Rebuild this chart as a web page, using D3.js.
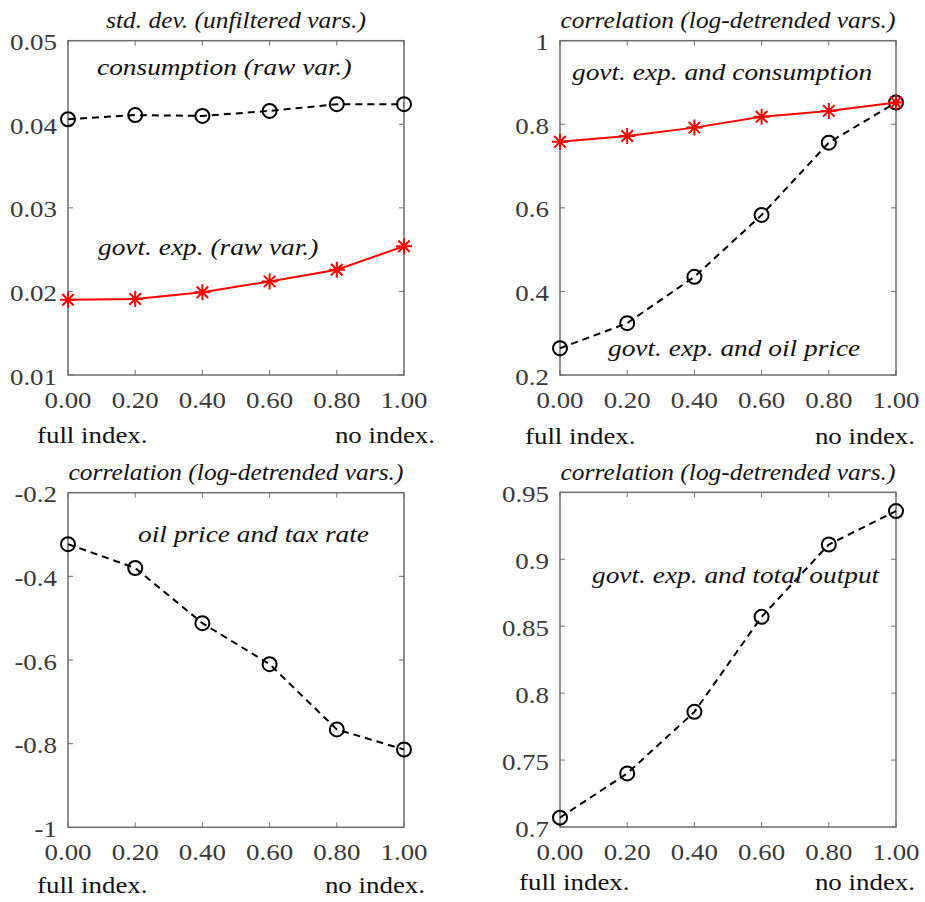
<!DOCTYPE html>
<html>
<head>
<meta charset="utf-8">
<script src="https://cdn.jsdelivr.net/npm/d3@7"></script>
<style>
  html, body { margin: 0; padding: 0; background: #fff; }
  svg { display: block; }
</style>
</head>
<body>
<svg id="chart" width="925" height="902" font-family="'Liberation Serif', Tinos, 'Times New Roman', Times, 'DejaVu Serif', serif"></svg>
<script>
// ---------------- data ----------------
const indexation = [0, 0.2, 0.4, 0.6, 0.8, 1.0];
const xTickLabels = ["0.00", "0.20", "0.40", "0.60", "0.80", "1.00"];

// panel 1: std. dev. (unfiltered vars.)
const sdConsumption = [0.0406, 0.0411, 0.0410, 0.0416, 0.0424, 0.0424];
const sdGovtExp     = [0.0190, 0.0191, 0.0199, 0.0212, 0.0226, 0.0254];
const p1Ticks = [0.01, 0.02, 0.03, 0.04, 0.05];
const p1TickLabels = ["0.01", "0.02", "0.03", "0.04", "0.05"];

// panel 2: correlations
const corrGovtCons = [0.758, 0.772, 0.792, 0.818, 0.832, 0.852];
const corrGovtOil  = [0.264, 0.324, 0.435, 0.583, 0.756, 0.852];
const p2Ticks = [0.2, 0.4, 0.6, 0.8, 1.0];
const p2TickLabels = ["0.2", "0.4", "0.6", "0.8", "1"];

// panel 3: oil price and tax rate
const corrOilTax = [-0.323, -0.380, -0.512, -0.610, -0.766, -0.814];
const p3Ticks = [-1, -0.8, -0.6, -0.4, -0.2];
const p3TickLabels = ["-1", "-0.8", "-0.6", "-0.4", "-0.2"];

// panel 4: govt. exp. and total output
const corrGovtOutput = [0.707, 0.740, 0.786, 0.857, 0.911, 0.936];
const p4Ticks = [0.7, 0.75, 0.8, 0.85, 0.9, 0.95];
const p4TickLabels = ["0.7", "0.75", "0.8", "0.85", "0.9", "0.95"];

// ---------------- drawing ----------------
const svg = d3.select("#chart");
const AXIS_COLOR = "#6e6e6e";
const TICK_TEXT = "#383838";

function addText(parent, x, y, str, o) {
  const g = parent.append("g").attr("transform", `translate(${x},${y}) scale(${o.sx || 1},1)`);
  g.append("text").attr("x", 0).attr("y", 0)
    .attr("text-anchor", o.anchor || "start")
    .attr("font-size", o.size)
    .attr("font-style", o.italic ? "italic" : "normal")
    .attr("fill", o.fill || "#111")
    .text(str);
}

function starPath(r) {
  const d = r * 0.72;
  return `M${-r},0L${r},0M0,${-r}L0,${r}M${-d},${-d}L${d},${d}M${-d},${d}L${d},${-d}`;
}

function drawPanel(cfg) {
  const { left, top, width, height, yDomain, yTicks, yTickLabels, series, title, notes, fullX, fullY, noX, noY } = cfg;
  const g = svg.append("g");
  const x = d3.scaleLinear().domain([0, 1]).range([left, left + width]);
  const y = d3.scaleLinear().domain(yDomain).range([top + height, top]);

  const tickLen = 5;
  const tg = g.append("g").attr("stroke", AXIS_COLOR).attr("stroke-width", 1);
  indexation.forEach(v => {
    tg.append("line").attr("x1", x(v)).attr("x2", x(v)).attr("y1", top + height).attr("y2", top + height - tickLen);
    tg.append("line").attr("x1", x(v)).attr("x2", x(v)).attr("y1", top).attr("y2", top + tickLen);
  });
  yTicks.forEach(v => {
    tg.append("line").attr("x1", left).attr("x2", left + tickLen).attr("y1", y(v)).attr("y2", y(v));
    tg.append("line").attr("x1", left + width).attr("x2", left + width - tickLen).attr("y1", y(v)).attr("y2", y(v));
  });

  g.append("rect").attr("x", left).attr("y", top).attr("width", width).attr("height", height)
    .attr("fill", "none").attr("stroke", AXIS_COLOR).attr("stroke-width", 1.5);

  indexation.forEach((v, i) => {
    addText(g, x(v), top + height + 33, xTickLabels[i], { size: 23, anchor: "middle", sx: 1.17, fill: TICK_TEXT });
  });
  yTicks.forEach((v, i) => {
    addText(g, left - 11, y(v) + 9.5, yTickLabels[i], { size: 23, anchor: "end", sx: 1.17, fill: TICK_TEXT });
  });

  addText(g, fullX, fullY, "full index.", { size: 23, sx: 1.17 });
  addText(g, noX, noY, "no index.", { size: 23, anchor: "end", sx: 1.17 });

  addText(g, left + width / 2, top - 12.5, title, { size: 22.5, anchor: "middle", italic: true, sx: 1.13 });

  const line = d3.line().x((d, i) => x(indexation[i])).y(d => y(d));
  series.forEach(s => {
    g.append("path").datum(s.values).attr("d", line)
      .attr("fill", "none").attr("stroke", s.color).attr("stroke-width", 2)
      .attr("stroke-dasharray", s.dashed ? "7,5" : null);
    const mg = g.append("g");
    s.values.forEach((v, i) => {
      if (s.marker === "circle") {
        mg.append("circle").attr("cx", x(indexation[i])).attr("cy", y(v)).attr("r", 7)
          .attr("fill", "none").attr("stroke", s.color).attr("stroke-width", 2);
      } else {
        mg.append("path").attr("transform", `translate(${x(indexation[i])},${y(v)})`)
          .attr("d", starPath(8)).attr("fill", "none").attr("stroke", s.color).attr("stroke-width", 2);
      }
    });
  });

  notes.forEach(n => {
    addText(g, n.x, n.y, n.text, { size: 23, italic: true, sx: 1.19 });
  });
}

drawPanel({
  left: 68, top: 40.7, width: 336, height: 334.3,
  yDomain: [0.01, 0.05], yTicks: p1Ticks, yTickLabels: p1TickLabels,
  title: "std. dev. (unfiltered vars.)",
  series: [
    { values: sdConsumption, color: "#000", dashed: true, marker: "circle" },
    { values: sdGovtExp, color: "#ff0000", dashed: false, marker: "star" }
  ],
  notes: [
    { text: "consumption (raw var.)", x: 97, y: 75 },
    { text: "govt. exp. (raw var.)", x: 98, y: 255 }
  ],
  fullX: 37, fullY: 443, noX: 435, noY: 443
});

drawPanel({
  left: 560, top: 40.7, width: 336, height: 334.3,
  yDomain: [0.2, 1.0], yTicks: p2Ticks, yTickLabels: p2TickLabels,
  title: "correlation (log-detrended vars.)",
  series: [
    { values: corrGovtOil, color: "#000", dashed: true, marker: "circle" },
    { values: corrGovtCons, color: "#ff0000", dashed: false, marker: "star" }
  ],
  notes: [
    { text: "govt. exp. and consumption", x: 572, y: 80 },
    { text: "govt. exp. and oil price", x: 608, y: 356 }
  ],
  fullX: 525, fullY: 444, noX: 915, noY: 444
});

drawPanel({
  left: 68, top: 492.7, width: 336, height: 334.6,
  yDomain: [-1, -0.2], yTicks: p3Ticks, yTickLabels: p3TickLabels,
  title: "correlation (log-detrended vars.)",
  series: [
    { values: corrOilTax, color: "#000", dashed: true, marker: "circle" }
  ],
  notes: [
    { text: "oil price and tax rate", x: 138, y: 542 }
  ],
  fullX: 37, fullY: 893, noX: 425, noY: 893
});

drawPanel({
  left: 560, top: 492.3, width: 336, height: 334.7,
  yDomain: [0.7, 0.95], yTicks: p4Ticks, yTickLabels: p4TickLabels,
  title: "correlation (log-detrended vars.)",
  series: [
    { values: corrGovtOutput, color: "#000", dashed: true, marker: "circle" }
  ],
  notes: [
    { text: "govt. exp. and total output", x: 592, y: 583 }
  ],
  fullX: 519, fullY: 890, noX: 915, noY: 890
});
</script>
</body>
</html>
